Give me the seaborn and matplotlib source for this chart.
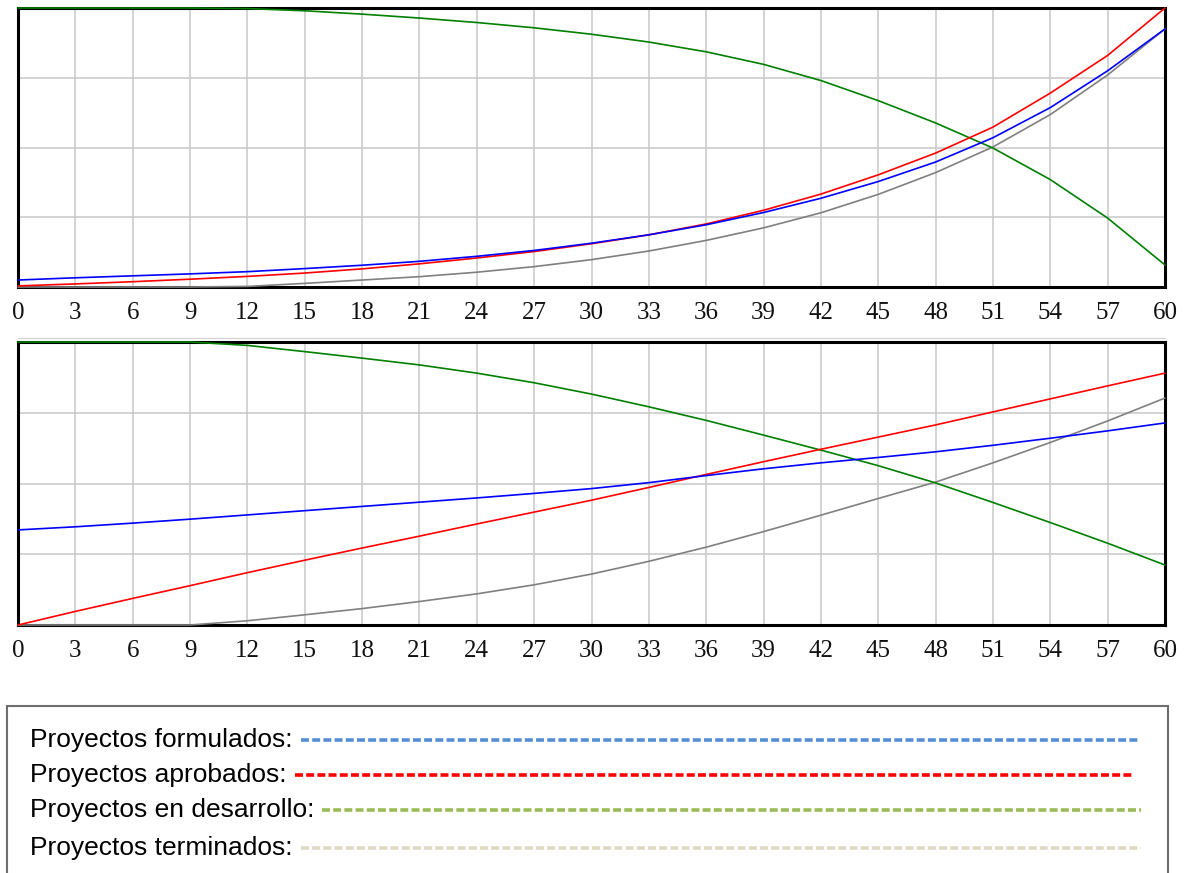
import matplotlib
matplotlib.use("Agg")
import matplotlib.pyplot as plt
import pandas as pd
import seaborn as sns
from matplotlib.patches import Rectangle
from matplotlib.lines import Line2D

# Months on the horizontal axis (every 3 months, 0..60)
months = list(range(0, 61, 3))
month_labels = [str(m) for m in months]

series_names = [
    "Proyectos formulados",
    "Proyectos aprobados",
    "Proyectos en desarrollo",
    "Proyectos terminados",
]

# Upper panel: values as % of the vertical scale
top_formulados = [2.5, 3.3, 4.0, 4.7, 5.5, 6.6, 7.8, 9.2, 11.0, 13.1, 15.7,
                  18.7, 22.3, 26.7, 31.8, 37.8, 44.8, 53.5, 64.3, 77.5, 92.5]
top_aprobados = [0.4, 1.1, 1.9, 2.8, 3.8, 5.0, 6.5, 8.3, 10.4, 12.7, 15.5,
                 18.7, 22.6, 27.5, 33.3, 40.2, 48.0, 57.3, 69.5, 83.0, 100.0]
top_desarrollo = [100.0, 100.0, 100.0, 100.0, 99.8, 99.0, 97.8, 96.4, 94.8, 92.9, 90.6,
                  87.8, 84.3, 79.8, 74.0, 66.8, 58.8, 49.8, 38.5, 24.7, 7.9]
top_terminados = [0.0, 0.0, 0.0, 0.0, 0.2, 1.3, 2.5, 3.7, 5.3, 7.3, 9.8,
                  12.9, 16.7, 21.2, 26.6, 33.2, 41.0, 50.2, 61.8, 76.0, 92.5]

# Lower panel: values as % of the vertical scale
bot_formulados = [33.6, 34.7, 36.0, 37.4, 38.9, 40.4, 41.9, 43.4, 44.9, 46.5, 48.2,
                  50.3, 52.8, 55.2, 57.3, 59.2, 61.2, 63.5, 66.0, 68.6, 71.4]
bot_aprobados = [0.0, 4.8, 9.4, 13.9, 18.5, 22.9, 27.2, 31.4, 35.7, 39.9, 44.1,
                 48.6, 53.2, 57.7, 62.1, 66.4, 70.7, 75.3, 79.9, 84.5, 89.0]
bot_desarrollo = [100.0, 100.0, 100.0, 100.0, 98.8, 96.6, 94.3, 91.9, 89.0, 85.6, 81.6,
                  77.1, 72.3, 67.1, 61.8, 56.3, 50.2, 43.3, 36.2, 28.9, 21.2]
bot_terminados = [0.0, 0.0, 0.0, 0.0, 1.5, 3.6, 5.8, 8.3, 11.0, 14.2, 18.0,
                  22.5, 27.5, 33.0, 38.8, 44.7, 50.5, 57.3, 64.5, 72.1, 80.2]

line_colors = {
    "Proyectos formulados": "#0000FF",
    "Proyectos aprobados": "#FF0000",
    "Proyectos en desarrollo": "#008000",
    "Proyectos terminados": "#808080",
}
legend_colors = ["#558ED5", "#FF0000", "#9BBB59", "#DDD9C3"]
legend_ends_px = [1140, 1133, 1141, 1141]
draw_order = ["Proyectos terminados", "Proyectos en desarrollo",
              "Proyectos aprobados", "Proyectos formulados"]


def long_frame(values):
    rows = []
    for name, vals in zip(series_names, values):
        for m, v in zip(months, vals):
            rows.append({"mes": m, "valor": v, "serie": name})
    return pd.DataFrame(rows)


df_top = long_frame([top_formulados, top_aprobados, top_desarrollo, top_terminados])
df_bot = long_frame([bot_formulados, bot_aprobados, bot_desarrollo, bot_terminados])

sns.set_style("white")
W, H = 1195, 873
fig = plt.figure(figsize=(W / 100, H / 100), dpi=100)
fig.patch.set_facecolor("white")

ax_top = fig.add_axes([18 / W, 1 - 287 / H, 1147 / W, 279 / H])
ax_bot = fig.add_axes([18 / W, 1 - 625 / H, 1147 / W, 283 / H])

for ax, df in ((ax_top, df_top), (ax_bot, df_bot)):
    sns.lineplot(data=df, x="mes", y="valor", hue="serie", hue_order=draw_order,
                 palette=line_colors, linewidth=1.2, legend=False, ax=ax)
    for ln in ax.get_lines():
        ln.set_clip_on(False)
        ln.set_zorder(4)
    ax.set_xlim(0, 60)
    ax.set_ylim(0, 100)
    ax.set_xticks(months)
    ax.set_xticklabels(month_labels, fontfamily="Liberation Serif", fontsize=18,
                       color="#111111")
    ax.set_yticks([0, 25, 50, 75, 100])
    ax.set_yticklabels([])
    ax.tick_params(axis="both", length=0, pad=11)
    ax.grid(True, color="#c8c8c8", linewidth=1.1)
    ax.set_axisbelow(True)
    ax.set_xlabel("")
    ax.set_ylabel("")
    for sp in ax.spines.values():
        sp.set_visible(True)
        sp.set_color("black")
        sp.set_linewidth(2.2)
        sp.set_zorder(3)

# faint rule above the lower panel
fig.add_artist(Line2D([18 / W, 1165 / W], [1 - 338 / H, 1 - 338 / H],
                      transform=fig.transFigure, color="#d4d4d4", linewidth=0.9))

# Legend box (its lower edge runs past the bottom of the figure)
box_top = 1 - 706 / H
fig.add_artist(Rectangle((7 / W, -0.05), (1168 - 7) / W, box_top + 0.05,
                         transform=fig.transFigure, facecolor="white",
                         edgecolor="#6e6e6e", linewidth=1.5, clip_on=False))

legend_rows_px = [740, 775, 810, 848]
fig.canvas.draw()
renderer = fig.canvas.get_renderer()
for name, color, end_px, y_px in zip(series_names, legend_colors, legend_ends_px, legend_rows_px):
    y = 1 - y_px / H
    t = fig.text(30 / W, y, name + ":", fontfamily="Liberation Sans", fontsize=19,
                 color="black", va="center", ha="left")
    bb = t.get_window_extent(renderer=renderer)
    x0 = (bb.x1 + 8) / W
    fig.add_artist(Line2D([x0, end_px / W], [y, y], transform=fig.transFigure,
                          color=color, linewidth=2.6, dashes=(2.2, 0.9),
                          dash_capstyle="butt"))

fig.savefig("out.png", dpi=100, facecolor="white")
